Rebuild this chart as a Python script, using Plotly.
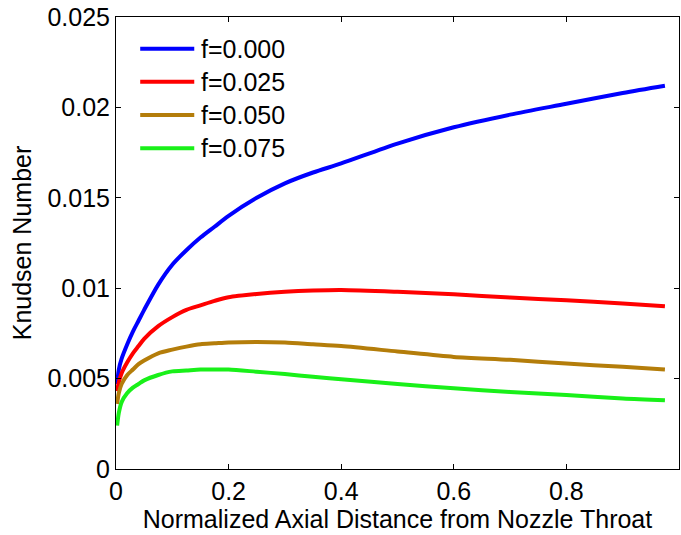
import plotly.graph_objects as go

# Normalized axial distance from the nozzle throat
x_dist = [0.002, 0.005, 0.01, 0.02, 0.03, 0.04, 0.05, 0.075, 0.1, 0.125, 0.15,
          0.175, 0.2, 0.25, 0.3, 0.35, 0.4, 0.5, 0.6, 0.7, 0.8, 0.9, 0.975]

# Knudsen number for each value of f
kn_f000 = [0.0047, 0.0055, 0.0061, 0.0069, 0.0076, 0.0082, 0.0088, 0.0102,
           0.0113, 0.0121, 0.0128, 0.0134, 0.0140, 0.0150, 0.0158, 0.0164,
           0.0169, 0.0180, 0.0189, 0.0196, 0.0202, 0.0208, 0.0212]
kn_f025 = [0.0043, 0.0048, 0.0053, 0.0059, 0.0064, 0.0068, 0.0072, 0.0079,
           0.0084, 0.0088, 0.00905, 0.0093, 0.0095, 0.00968, 0.0098, 0.00987,
           0.0099, 0.0098, 0.00966, 0.00948, 0.00933, 0.00916, 0.0090]
kn_f050 = [0.0036, 0.0042, 0.0047, 0.0052, 0.0055, 0.0058, 0.0060, 0.0064,
           0.0066, 0.00677, 0.0069, 0.00695, 0.0070, 0.00703, 0.0070, 0.0069,
           0.0068, 0.0065, 0.0062, 0.00604, 0.00583, 0.00565, 0.0055]
kn_f075 = [0.0024, 0.0031, 0.0037, 0.0042, 0.0045, 0.0047, 0.0049, 0.0052,
           0.0054, 0.00545, 0.0055, 0.0055, 0.0055, 0.00538, 0.00525, 0.0051,
           0.00497, 0.0047, 0.00446, 0.00426, 0.00409, 0.0039, 0.0038]

series_names = ["f=0.000", "f=0.025", "f=0.050", "f=0.075"]
series_values = [kn_f000, kn_f025, kn_f050, kn_f075]
series_colors = ["#0000FF", "#FF0000", "#B47D0A", "#19F019"]

FONT = "Liberation Sans, Arial, sans-serif"
FSIZE = 25

fig = go.Figure()
for name, vals, col in zip(series_names, series_values, series_colors):
    fig.add_trace(go.Scatter(
        x=x_dist, y=vals, mode="lines", name=name,
        line=dict(color=col, width=4, shape="spline", smoothing=0.8),
        showlegend=False,
    ))

# Legend block in the upper-left corner of the axes (paper coordinates)
leg_x0, leg_x1, leg_text_x = 0.043, 0.139, 0.148
leg_y_top, leg_step = 0.930, 0.0735
for k, (name, col) in enumerate(zip(series_names, series_colors)):
    yk = leg_y_top - k * leg_step
    fig.add_shape(type="line", xref="paper", yref="paper",
                  x0=leg_x0, x1=leg_x1, y0=yk, y1=yk,
                  line=dict(color=col, width=4))
    fig.add_annotation(xref="paper", yref="paper", x=leg_text_x, y=yk,
                       xanchor="left", yanchor="middle", text=name,
                       showarrow=False,
                       font=dict(family=FONT, size=FSIZE, color="black"))

axis_common = dict(
    showline=True, linecolor="black", linewidth=1, mirror="ticks",
    ticks="inside", ticklen=5, tickcolor="black", tickwidth=1,
    showgrid=False, zeroline=False,
    tickfont=dict(family=FONT, size=FSIZE, color="black"),
)

fig.update_layout(
    width=681, height=535,
    margin=dict(l=116, r=2, t=17, b=66),
    paper_bgcolor="white", plot_bgcolor="white",
    font=dict(family=FONT, color="black"),
    xaxis=dict(range=[0, 1], tickvals=[0, 0.2, 0.4, 0.6, 0.8, 1],
               ticktext=["0", "0.2", "0.4", "0.6", "0.8", "1"],
               title=dict(text="Normalized Axial Distance from Nozzle Throat",
                          font=dict(family=FONT, size=FSIZE), standoff=2),
               **axis_common),
    yaxis=dict(range=[0, 0.025], tickvals=[0, 0.005, 0.01, 0.015, 0.02, 0.025],
               ticktext=["0", "0.005", "0.01", "0.015", "0.02", "0.025"],
               title=dict(text="Knudsen Number",
                          font=dict(family=FONT, size=FSIZE), standoff=8),
               **axis_common),
    showlegend=False,
)

fig.write_html("out.html")
